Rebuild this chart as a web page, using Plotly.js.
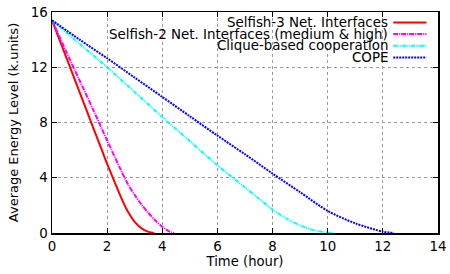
<!DOCTYPE html>
<html><head><meta charset="utf-8">
<script src="https://cdn.plot.ly/plotly-3.0.1.min.js"></script>
<style>body{margin:0;padding:0;background:#fff}#chart{width:450px;height:274px}</style>
</head><body><div id="chart"></div>
<script>
const seriesNames = ["Selfish-3 Net. Interfaces", "Selfish-2 Net. Interfaces (medium & high)", "Clique-based cooperation", "COPE"];
const redX = [0, 0.5, 1, 1.5, 1.8, 2, 2.25, 2.5, 2.75, 3, 3.25, 3.5, 3.71];
const redY = [15.4, 12.8, 10.2, 7.6, 6.05, 5.0, 3.8, 2.6, 1.55, 0.8, 0.33, 0.08, 0];
const magX = [0, 0.5, 1, 1.5, 2, 2.5, 2.75, 3, 3.25, 3.5, 3.75, 4, 4.25, 4.43];
const magY = [15.4, 13.2, 11.05, 8.9, 6.7, 4.55, 3.55, 2.75, 2.05, 1.45, 0.9, 0.45, 0.12, 0];
const cyanX = [0, 1, 2, 3, 4, 5, 6, 7, 7.5, 8, 8.5, 9, 9.5, 10, 10.2];
const cyanY = [15.4, 13.7, 12.0, 10.2, 8.4, 6.65, 4.9, 3.3, 2.5, 1.7, 1.05, 0.55, 0.2, 0.03, 0];
const blueX = [0, 1, 2, 3, 4, 5, 6, 7, 8, 9, 10, 11, 12, 12.4];
const blueY = [15.4, 14.0, 12.65, 11.25, 9.85, 8.45, 7.05, 5.7, 4.3, 2.95, 1.6, 0.7, 0.1, 0];
const xTicks = [0, 2, 4, 6, 8, 10, 12, 14];
const yTicks = [0, 4, 8, 12, 16];

const colors = ["#ff0000", "#ff00ff", "#00ffff", "#0000ff"];
const dashes = ["solid", "5px,1px,1px,1px", "4px,1px,1px,1px,1px,1px", "2px,1px"];
const xs = [redX, magX, cyanX, blueX], ys = [redY, magY, cyanY, blueY];

const traces = xs.map((x, i) => ({
  x: x, y: ys[i], type: 'scatter', mode: 'lines', name: seriesNames[i],
  line: {color: colors[i], width: 2, dash: dashes[i], shape: 'spline', smoothing: 0.8},
  showlegend: false, hoverinfo: 'skip'
}));

const F = 'DejaVu Sans, sans-serif';
const rowsY = [0.953, 0.900, 0.847, 0.794];
const annotations = seriesNames.map((n, i) => ({
  xref: 'paper', yref: 'paper', x: 0.872, y: rowsY[i], xanchor: 'right', yanchor: 'middle',
  text: n, showarrow: false, borderpad: 0, font: {family: F, size: 13.4, color: '#000'}
}));
const shapes = colors.map((c, i) => ({
  type: 'line', xref: 'paper', yref: 'paper', x0: 0.884, x1: 0.970, y0: rowsY[i], y1: rowsY[i],
  line: {color: c, width: 2, dash: dashes[i]}
}));

const axisCommon = {
  showline: true, linecolor: '#000', linewidth: 1.5, mirror: 'ticks',
  ticks: 'inside', ticklen: 5, tickcolor: '#000', tickwidth: 1,
  showgrid: true, gridcolor: '#9a9a9a', griddash: '3px,3px', gridwidth: 1,
  zeroline: false, tickfont: {family: F, size: 13.4, color: '#000'}
};

const layout = {
  width: 450, height: 274,
  margin: {l: 52, r: 12, t: 12, b: 41},
  paper_bgcolor: '#fff', plot_bgcolor: '#fff',
  xaxis: Object.assign({}, axisCommon, {range: [0, 14], tickvals: xTicks, ticktext: xTicks.map(String),
    title: {text: 'Time (hour)', font: {family: F, size: 13.2, color: '#000'}, standoff: 3}}),
  yaxis: Object.assign({}, axisCommon, {range: [0, 16], tickvals: yTicks, ticktext: yTicks.map(String),
    title: {text: 'Average Energy Level (k.units)', font: {family: F, size: 13, color: '#000'}, standoff: 9}}),
  annotations: annotations, shapes: shapes, showlegend: false
};

Plotly.newPlot('chart', traces, layout, {staticPlot: true, displayModeBar: false});
</script></body></html>
